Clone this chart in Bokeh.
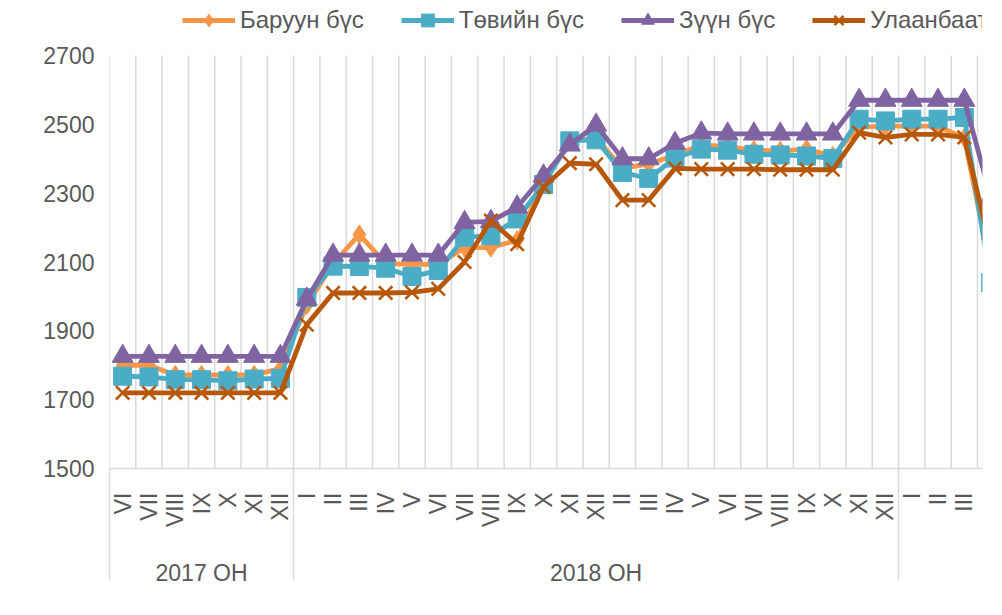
import math
from bokeh.plotting import figure
from bokeh.models import Range1d, FixedTicker, LinearAxis, Legend, LegendItem, Label
from bokeh.embed import file_html
from bokeh.resources import INLINE

# ---------------- data ----------------
months_2017 = ["VI", "VII", "VIII", "IX", "X", "XI", "XII"]
months_2018 = ["I", "II", "III", "IV", "V", "VI", "VII", "VIII", "IX", "X", "XI", "XII",
               "II", "III", "IV", "V", "VI", "VII", "VIII", "IX", "X", "XI", "XII"]
months_2019 = ["I", "II", "III", "IV", "V", "VI", "VII", "VIII", "IX", "X"]
group_labels = ["2017 ОН", "2018 ОН", "2019 ОН"]

series_names = ["Баруун бүс", "Төвийн бүс", "Зүүн бүс", "Улаанбаатар"]

baruun = [1800, 1800, 1772, 1772, 1772, 1772, 1790,
          1975, 2095, 2180, 2095, 2093, 2093, 2142, 2142, 2163, 2330, 2450, 2460,
          2372, 2385, 2410, 2440, 2435, 2425, 2423, 2428, 2408, 2492, 2495,
          2495, 2495, 2460, 2080]
tuv = [1768, 1766, 1758, 1758, 1755, 1760, 1762,
       1997, 2088, 2087, 2082, 2058, 2075, 2172, 2176, 2225, 2325, 2452, 2455,
       2360, 2343, 2402, 2428, 2425, 2413, 2411, 2408, 2401, 2515, 2510,
       2515, 2515, 2520, 2040]
zuun = [1826, 1826, 1826, 1826, 1826, 1826, 1826,
        1992, 2120, 2120, 2120, 2120, 2120, 2215, 2218, 2260, 2350, 2440, 2498,
        2400, 2400, 2445, 2475, 2472, 2472, 2472, 2472, 2472, 2570, 2570,
        2570, 2570, 2570, 2290]
ub = [1720, 1720, 1720, 1720, 1720, 1720, 1720,
      1918, 2010, 2010, 2010, 2012, 2022, 2100, 2220, 2152, 2318, 2387, 2384,
      2280, 2280, 2372, 2370, 2370, 2370, 2368, 2368, 2368, 2476, 2462,
      2471, 2471, 2462, 2140]

y_ticks = [1500, 1700, 1900, 2100, 2300, 2500, 2700]

# ---------------- derived ----------------
groups = [months_2017, months_2018, months_2019]
all_months = months_2017 + months_2018 + months_2019
n_all = len(all_months)
starts = []
s = 0
for g in groups:
    starts.append(s)
    s += len(g)
centers = [st + (len(g) - 1) / 2 for st, g in zip(starts, groups)]
separators = [st - 0.5 for st in starts] + [n_all - 0.5]
boundaries = [i - 0.5 for i in range(n_all + 1)]

TXT = "#595959"
GRID = "#d9d9d9"
FONT = "Liberation Sans"
SEP_LEN = 111

PX_PER_200 = 68.83
ytop = y_ticks[-1] + 55 / PX_PER_200 * 200   # room for the legend inside the frame

p = figure(frame_width=873, frame_height=468, output_backend="svg", toolbar_location=None,
           x_range=Range1d(-0.5, 32.69), y_range=Range1d(y_ticks[0], ytop),
           min_border_left=109, min_border_right=12, min_border_top=0,
           min_border_bottom=10)
p.outline_line_color = None
p.background_fill_color = "white"
p.border_fill_color = "white"

# vertical gridlines between categories (only inside the value range)
p.segment(x0=boundaries, y0=y_ticks[0], x1=boundaries, y1=y_ticks[-1],
          line_color=GRID, line_width=1.5)
p.xgrid.visible = False
p.ygrid.visible = False

# x axis (months) + long group separators as minor ticks
p.xaxis.ticker = FixedTicker(ticks=list(range(n_all)), minor_ticks=separators)
p.xaxis.major_label_overrides = {i: m for i, m in enumerate(all_months)}
p.xaxis.major_label_orientation = math.pi / 2
p.xaxis.major_label_text_font = FONT
p.xaxis.major_label_text_font_size = "23px"
p.xaxis.major_label_text_color = TXT
p.xaxis.major_label_standoff = 24 - SEP_LEN
p.xaxis.major_tick_line_color = None
p.xaxis.major_tick_out = 0
p.xaxis.major_tick_in = 0
p.xaxis.minor_tick_line_color = GRID
p.xaxis.minor_tick_line_width = 1.5
p.xaxis.minor_tick_out = SEP_LEN
p.xaxis.minor_tick_in = 0
p.xaxis.axis_line_color = GRID
p.xaxis.axis_line_width = 1.5

# group axis
gaxis = LinearAxis(ticker=FixedTicker(ticks=centers, minor_ticks=[]),
                   major_label_overrides={c: g for c, g in zip(centers, group_labels)})
gaxis.axis_line_color = None
gaxis.major_tick_line_color = None
gaxis.minor_tick_line_color = None
gaxis.major_label_text_font = FONT
gaxis.major_label_text_font_size = "23px"
gaxis.major_label_text_color = TXT
gaxis.major_label_standoff = 23
p.add_layout(gaxis, "below")

# label for the partially visible last group
p.add_layout(Label(x=centers[2], y=1221, x_units="data", y_units="data",
                   text=group_labels[2], text_align="center", text_baseline="middle",
                   text_font=FONT, text_font_size="23px", text_color=TXT))

# y axis
p.yaxis.ticker = FixedTicker(ticks=y_ticks)
p.yaxis.axis_line_color = None
p.yaxis.major_tick_line_color = None
p.yaxis.minor_tick_line_color = None
p.yaxis.major_label_text_font = FONT
p.yaxis.major_label_text_font_size = "23px"
p.yaxis.major_label_text_color = TXT
p.yaxis.major_label_standoff = 9

# series
styles = [
    (baruun, "#F79646", "diamond", 19, 1),
    (tuv, "#4BACC6", "square", 18, 1),
    (zuun, "#8064A2", "triangle", 21, 1),
    (ub, "#B7570A", "x", 19, 2.5),
]
items = []
for (vals, col, mk, sz, lw), name in zip(styles, series_names):
    xs = list(range(len(vals)))
    lr = p.line(xs, vals, line_color=col, line_width=4.8)
    if mk == "x":
        sr = p.scatter(xs, vals, marker=mk, size=sz, line_color=col, line_width=lw)
    else:
        sr = p.scatter(xs, vals, marker=mk, size=sz, fill_color=col, line_color=col)
    items.append(LegendItem(label=name, renderers=[lr, sr]))

legend = Legend(items=items, orientation="horizontal", location=(73, 432))
legend.label_text_font = FONT
legend.label_text_font_size = "24px"
legend.label_text_color = TXT
legend.glyph_width = 53
legend.glyph_height = 32
legend.label_height = 32
legend.label_standoff = 5
legend.spacing = 37
legend.padding = 0
legend.margin = 0
legend.border_line_color = None
legend.background_fill_alpha = 0
p.add_layout(legend, "center")

open("out.html", "w").write(file_html(p, INLINE))
